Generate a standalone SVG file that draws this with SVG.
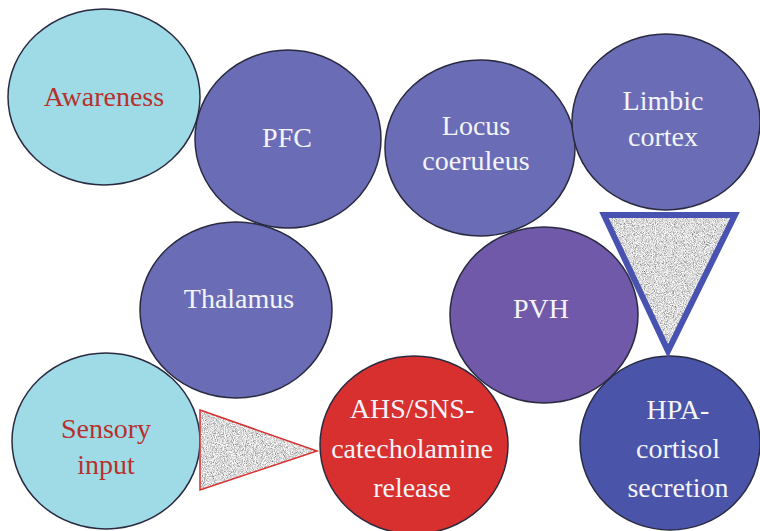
<svg xmlns="http://www.w3.org/2000/svg" width="760" height="531" viewBox="0 0 760 531">
<style>
.n{stroke:#2a2a40;stroke-width:1.5}
.cy{fill:#9edbe7}
.bl{fill:#6a6db5}
.t{font-size:28px;text-anchor:middle}
.w{fill:#f4f4fa}
.r{fill:#b8302c}
</style>
<defs>
<filter id="noise" x="0" y="0" width="100%" height="100%">
<feTurbulence type="fractalNoise" baseFrequency="1.1" numOctaves="2" seed="3" result="t"/>
<feColorMatrix in="t" type="matrix" values="1.5 0 0 0 -0.05 1.5 0 0 0 -0.05 1.5 0 0 0 -0.05 0 0 0 0 1" result="g"/>
<feComposite in="g" in2="SourceGraphic" operator="in"/>
</filter>
</defs>
<rect width="760" height="531" fill="#ffffff"/>
<g font-family="Liberation Serif, DejaVu Serif, serif">
<g id="awareness"><ellipse class="n cy" cx="104" cy="97" rx="96" ry="88"/><text class="t r" x="104" y="106">Awareness</text></g>
<g id="pfc"><ellipse class="n bl" cx="288" cy="139" rx="93" ry="89"/><text class="t w" x="287" y="147">PFC</text></g>
<g id="thalamus"><ellipse class="n bl" cx="236" cy="310" rx="96" ry="88"/><text class="t w" x="239" y="308">Thalamus</text></g>
<g id="locus"><ellipse class="n bl" cx="480" cy="148" rx="95" ry="88"/><text class="t w" x="476" y="135">Locus</text><text class="t w" x="476" y="170">coeruleus</text></g>
<g id="limbic"><ellipse class="n bl" cx="666" cy="122" rx="94" ry="88"/><text class="t w" x="663" y="110">Limbic</text><text class="t w" x="663" y="146">cortex</text></g>
<g id="pvh"><ellipse class="n" fill="#7059a9" cx="544" cy="315" rx="94" ry="88"/><text class="t w" x="541" y="318">PVH</text></g>
<g id="sensory"><ellipse class="n cy" cx="106" cy="441" rx="94" ry="88"/><text class="t r" x="106" y="438">Sensory</text><text class="t r" x="106" y="474">input</text></g>
<g id="ahs"><ellipse class="n" fill="#d7302e" cx="414" cy="445" rx="94" ry="89"/><text class="t w" x="412" y="418">AHS/SNS-</text><text class="t w" x="412" y="458">catecholamine</text><text class="t w" x="412" y="497">release</text></g>
<g id="hpa"><ellipse class="n" fill="#4a55a9" cx="670" cy="443" rx="90" ry="87"/><text class="t w" x="678" y="419">HPA-</text><text class="t w" x="678" y="458">cortisol</text><text class="t w" x="678" y="497">secretion</text></g>
</g>
<g id="connectors">
<polygon points="604,215 735,215 668,351" fill="#b0b0b0"/>
<polygon points="604,215 735,215 668,351" fill="#b0b0b0" filter="url(#noise)"/>
<polygon points="604,215 735,215 668,351" fill="none" stroke="#4852b0" stroke-width="6" stroke-linejoin="miter"/>
<polygon points="200,410 317,451 200,490" fill="#b0b0b0"/>
<polygon points="200,410 317,451 200,490" fill="#b0b0b0" filter="url(#noise)"/>
<polygon points="200,410 317,451 200,490" fill="none" stroke="#d83030" stroke-width="1.5"/>
</g>
</svg>
